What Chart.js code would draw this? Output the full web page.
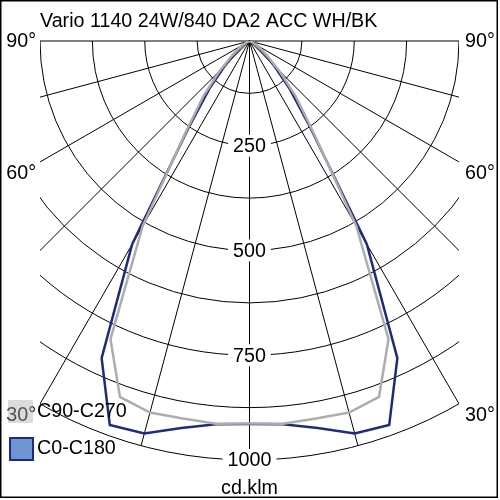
<!DOCTYPE html>
<html>
<head>
<meta charset="utf-8">
<script src="https://cdn.jsdelivr.net/npm/chart.js@4.4.0/dist/chart.umd.min.js"></script>
<style>
  html, body { margin: 0; padding: 0; background: #fff; }
  canvas { display: block; }
</style>
</head>
<body>
<canvas id="chart" width="500" height="500"></canvas>
<script>
const title = 'Vario 1140 24W/840 DA2 ACC WH/BK';
const unitLabel = 'cd.klm';

// gamma angles (deg from nadir); each half-plane is mirrored left/right
const angles = [0, 5, 10, 15, 20, 25, 30, 35, 40, 45, 50, 55, 60, 65, 70, 75, 80, 85, 90];
const c0c180 = [914, 918, 938, 970, 975, 835, 560, 255, 150, 83, 42, 25, 15, 8, 4, 2, 1, 0, 0];
const c90c270 = [913, 917, 915, 918, 904, 785, 510, 265, 170, 100, 55, 32, 18, 9, 4, 2, 1, 0, 0];
const seriesNames = ['C90-C270', 'C0-C180'];

const ringValues = [125, 250, 375, 500, 625, 750, 875, 1000];
const ringLabels = [250, 500, 750, 1000];
const spokeAngles = [-90, -75, -60, -45, -30, -15, 0, 15, 30, 45, 60, 75, 90];
const angleLabels = [90, 60, 30];

const FONT = '19.7px "Liberation Sans", Arial, sans-serif';
const NAVY = '#1f2b7a';
const GREY = '#adadad';

function toPoints(values) {
  const pts = [];
  for (let i = angles.length - 1; i > 0; i--) {
    const t = angles[i] * Math.PI / 180;
    pts.push({ x: -values[i] * Math.sin(t), y: -values[i] * Math.cos(t) });
  }
  for (let i = 0; i < angles.length; i++) {
    const t = angles[i] * Math.PI / 180;
    pts.push({ x: values[i] * Math.sin(t), y: -values[i] * Math.cos(t) });
  }
  return pts;
}

const polarGrid = {
  id: 'polarGrid',
  beforeDraw(chart) {
    const ctx = chart.ctx;
    ctx.save();
    ctx.fillStyle = '#fff';
    ctx.fillRect(0, 0, chart.width, chart.height);
    ctx.restore();
  },
  beforeDatasetsDraw(chart) {
    const { ctx, chartArea: a, scales: { x, y } } = chart;
    const cx = x.getPixelForValue(0), cy = y.getPixelForValue(0);
    ctx.save();
    ctx.beginPath();
    ctx.rect(a.left, a.top - 1, a.right - a.left, a.bottom - a.top + 3);
    ctx.clip();
    ctx.strokeStyle = '#000';
    ctx.lineWidth = 1;
    ringValues.forEach(v => {
      const r = x.getPixelForValue(v) - cx;
      ctx.beginPath();
      ctx.arc(cx, cy, r, 0, Math.PI);
      ctx.stroke();
    });
    spokeAngles.forEach(g => {
      const t = g * Math.PI / 180;
      ctx.beginPath();
      ctx.moveTo(cx, cy);
      ctx.lineTo(x.getPixelForValue(1000 * Math.sin(t)), y.getPixelForValue(-1000 * Math.cos(t)));
      ctx.stroke();
    });
    ctx.restore();

    // intensity labels on the 0 deg axis
    ctx.save();
    ctx.font = FONT;
    ctx.textAlign = 'center';
    ctx.textBaseline = 'middle';
    ringLabels.forEach(v => {
      const py = y.getPixelForValue(-v);
      const w = ctx.measureText(String(v)).width;
      ctx.fillStyle = '#fff';
      ctx.fillRect(cx - w / 2 - 5, py - 11, w + 10, 22);
      ctx.fillStyle = '#000';
      ctx.fillText(String(v), cx, py + 1);
    });
    ctx.restore();
  },
  afterDraw(chart) {
    const { ctx, chartArea: a, scales: { x, y } } = chart;
    ctx.save();
    ctx.font = FONT;
    ctx.fillStyle = '#000';

    // title
    ctx.textBaseline = 'alphabetic';
    ctx.textAlign = 'left';
    ctx.fillText(title, 40, 26.5);

    // angle labels at both sides
    ctx.textBaseline = 'middle';
    angleLabels.forEach(g => {
      const t = g * Math.PI / 180;
      const r = Math.min(1000, 500 / Math.sin(t));
      const py = y.getPixelForValue(-r * Math.cos(t)) + (g === 90 ? 0 : 11);
      ctx.textAlign = 'right';
      ctx.fillText(g + '°', a.left - 4, py + 1);
      ctx.textAlign = 'left';
      ctx.fillText(g + '°', a.right + 6, py + 1);
    });

    // unit
    ctx.textAlign = 'center';
    ctx.textBaseline = 'alphabetic';
    ctx.fillText(unitLabel, x.getPixelForValue(0), 494);

    // legend
    ctx.fillStyle = 'rgba(175,175,175,0.45)';
    ctx.fillRect(8, 400, 25, 23);
    ctx.fillStyle = '#6f95d4';
    ctx.fillRect(10, 438, 23, 22);
    ctx.strokeStyle = NAVY;
    ctx.lineWidth = 2;
    ctx.strokeRect(10, 438, 23, 22);
    ctx.fillStyle = '#000';
    ctx.textAlign = 'left';
    ctx.textBaseline = 'middle';
    ctx.fillText(seriesNames[0], 37, 412);
    ctx.fillText(seriesNames[1], 37, 449);

    // frame
    ctx.strokeStyle = '#000';
    ctx.lineWidth = 1.5;
    ctx.strokeRect(0.75, 0.75, 496.5, 496.5);
    ctx.restore();
  }
};

new Chart(document.getElementById('chart'), {
  type: 'scatter',
  data: {
    datasets: [
      {
        label: seriesNames[0],
        data: toPoints(c90c270),
        showLine: true,
        borderColor: GREY,
        borderWidth: 2.5,
        pointRadius: 0,
        fill: false,
        tension: 0
      },
      {
        label: seriesNames[1],
        data: toPoints(c0c180),
        showLine: true,
        borderColor: NAVY,
        borderWidth: 2.5,
        pointRadius: 0,
        fill: false,
        tension: 0
      }
    ]
  },
  options: {
    responsive: false,
    animation: false,
    layout: { padding: { left: 40, right: 41, top: 41, bottom: 40 } },
    scales: {
      x: { type: 'linear', min: -500, max: 500, display: false },
      y: { type: 'linear', min: -1000, max: 0, display: false }
    },
    plugins: {
      legend: { display: false },
      tooltip: { enabled: false }
    }
  },
  plugins: [polarGrid]
});
</script>
</body>
</html>
